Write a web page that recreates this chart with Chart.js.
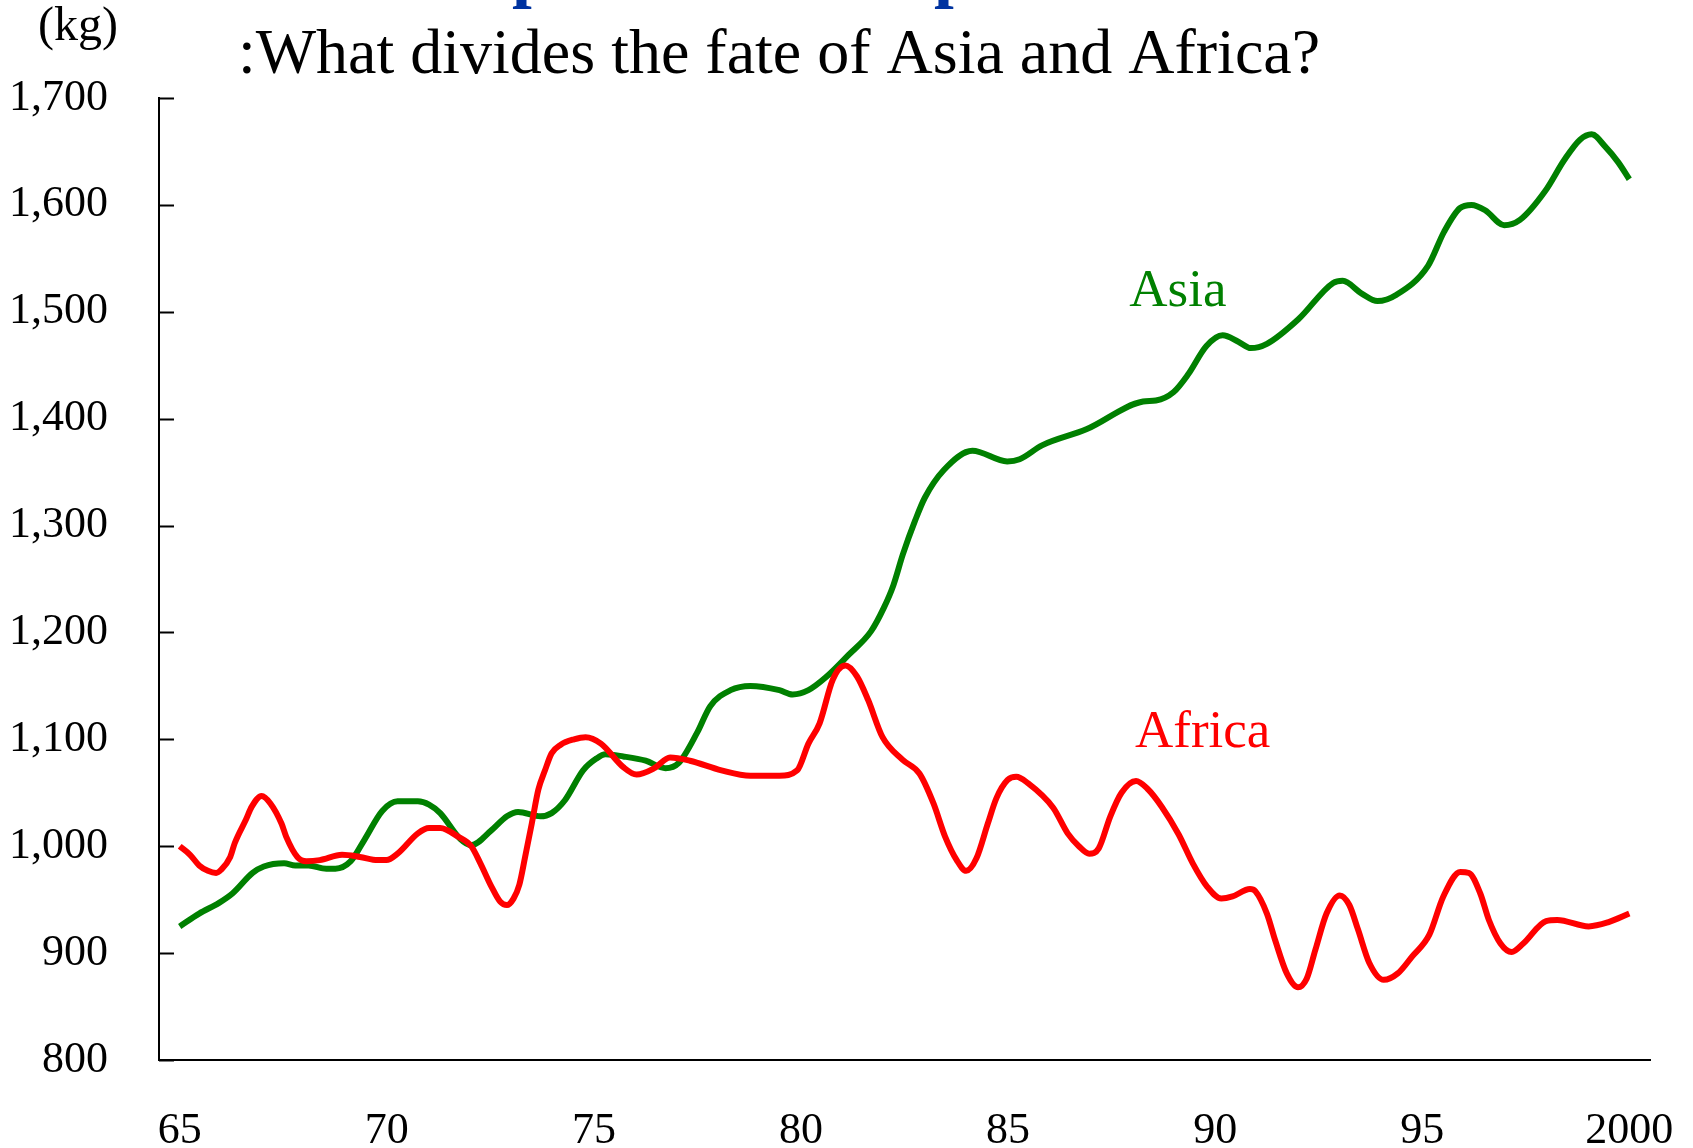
<!DOCTYPE html>
<html>
<head>
<meta charset="utf-8">
<title>Asia and Africa</title>
<script src="https://cdn.jsdelivr.net/npm/chart.js@4.4.1/dist/chart.umd.min.js"></script>
<style>
    body { margin: 0; background: #fff; }
    #wrap { width: 1693px; height: 1148px; }
</style>
</head>
<body>
<div id="wrap"><canvas id="chart" width="1693" height="1148"></canvas></div>
<script>
// Данные (год 65..2000, кг)
const africaYears = [
    65.0, 65.25, 65.47, 65.68, 65.88, 66.0, 66.22, 66.33, 66.6, 66.74,
    66.98, 67.19, 67.46, 67.57, 67.84, 68.06, 68.38, 68.92, 69.35, 69.78,
    69.99, 70.26, 70.75, 71.02, 71.29, 71.72, 72.04, 72.26, 72.53, 72.74,
    72.9, 73.06, 73.2, 73.34, 73.5, 73.66, 73.82, 73.98, 74.2, 74.52,
    74.8, 75.17, 75.71, 76.03, 76.46, 76.84, 77.32, 78.08, 78.78, 79.48,
    79.91, 80.18, 80.45, 80.77, 81.07, 81.35, 81.62, 81.97, 82.45, 82.86,
    83.2, 83.48, 83.76, 83.99, 84.24, 84.51, 84.72, 84.99, 85.2, 85.48,
    86.09, 86.44, 86.71, 86.96, 87.19, 87.47, 87.74, 88.09, 88.36, 88.71,
    89.12, 89.46, 89.81, 90.15, 90.42, 90.84, 90.97, 91.25, 91.45, 91.73,
    92.0, 92.21, 92.42, 92.69, 93.01, 93.24, 93.45, 93.72, 94.07, 94.41,
    94.76, 95.17, 95.51, 95.92, 96.13, 96.4, 96.61, 96.89, 97.16, 97.44,
    97.99, 98.26, 99.02, 99.5, 100.0
];
const africaValues = [
    1000, 992, 982, 977, 975, 978, 990, 1003, 1025, 1037,
    1047, 1040, 1021, 1009, 990, 986, 987, 992, 990, 987,
    987, 993, 1012, 1017, 1017, 1009, 1000, 984, 962, 948,
    945, 951, 964, 990, 1021, 1053, 1071, 1087, 1095, 1100,
    1102, 1096, 1074, 1067, 1073, 1083, 1080, 1071, 1066, 1066,
    1071, 1096, 1115, 1156, 1169, 1159, 1137, 1102, 1081, 1068,
    1040, 1009, 987, 977, 989, 1021, 1045, 1062, 1065, 1059,
    1036, 1012, 1000, 993, 998, 1028, 1050, 1061, 1054, 1037,
    1011, 984, 962, 951, 953, 960, 958, 937, 912, 881,
    868, 876, 903, 937, 954, 945, 922, 891, 875, 881,
    897, 917, 953, 976, 975, 956, 931, 909, 901, 909,
    930, 931, 925, 929, 937
];

const asiaYears = [
    65.0, 65.47, 65.95, 66.28, 66.76, 67.03, 67.52, 67.79, 68.11, 68.54,
    68.76, 69.13, 69.46, 69.89, 70.26, 70.75, 71.02, 71.29, 71.77, 72.04,
    72.53, 72.9, 73.17, 73.71, 73.98, 74.3, 74.74, 75.06, 75.28, 75.71,
    76.25, 76.73, 77.05, 77.49, 77.81, 78.3, 78.78, 79.48, 79.8, 80.18,
    80.6, 81.15, 81.69, 82.0, 82.23, 82.46, 82.76, 82.99, 83.45, 84.14,
    84.98, 85.28, 85.82, 86.89, 88.26, 88.57, 89.0, 89.34, 89.79, 90.18,
    90.56, 90.86, 91.25, 92.01, 92.85, 93.08, 93.54, 93.92, 94.38, 95.14,
    95.53, 95.91, 96.19, 96.52, 96.98, 97.36, 97.97, 98.43, 98.81, 99.09,
    99.43, 99.73, 100.0
];
const asiaValues = [
    925, 937, 947, 956, 975, 981, 984, 982, 982, 979,
    979, 986, 1006, 1033, 1042, 1042, 1039, 1031, 1007, 1001,
    1015, 1028, 1032, 1028, 1031, 1043, 1071, 1082, 1086, 1084,
    1080, 1073, 1078, 1106, 1131, 1146, 1150, 1146, 1142, 1146,
    1158, 1179, 1201, 1223, 1244, 1273, 1305, 1326, 1352, 1370,
    1360, 1362, 1375, 1390, 1416, 1417, 1425, 1441, 1468, 1478,
    1472, 1466, 1470, 1493, 1527, 1529, 1517, 1510, 1516, 1543,
    1575, 1597, 1600, 1595, 1581, 1586, 1613, 1642, 1661, 1666,
    1654, 1640, 1624
];

// Подписи оси X
const xTickValues = [65, 70, 75, 80, 85, 90, 95, 100];
const xTickLabels = ['65', '70', '75', '80', '85', '90', '95', '2000'];

const SERIF = '"Liberation Serif", "Times New Roman", serif';

function toPoints(xs, ys) {
    return xs.map((x, i) => ({ x: x, y: ys[i] }));
}

// Плагин: заголовок, (kg), подписи серий и внутренние засечки оси Y
const decorPlugin = {
    id: 'decor',
    afterDraw(chart) {
        const { ctx, chartArea, scales } = chart;
        const x = scales.x, y = scales.y;

        ctx.save();
        // засечки внутрь
        ctx.strokeStyle = '#000';
        ctx.lineWidth = 2;
        y.ticks.forEach(t => {
            const py = Math.round(y.getPixelForValue(t.value)) + 0.5;
            ctx.beginPath();
            ctx.moveTo(chartArea.left, py);
            ctx.lineTo(chartArea.left + 15, py);
            ctx.stroke();
        });

        // обрезанный синий заголовок сверху
        ctx.fillStyle = '#0033a0';
        ctx.font = 'bold 71px ' + SERIF;
        ctx.textAlign = 'left';
        ctx.textBaseline = 'alphabetic';
        ctx.fillText('Comparison of output', 366, -6);

        // подзаголовок
        ctx.fillStyle = '#000';
        ctx.font = '64px ' + SERIF;
        ctx.textAlign = 'center';
        ctx.fillText(':What divides the fate of Asia and Africa?', 779, 73);

        // единицы
        ctx.font = '48px ' + SERIF;
        ctx.fillText('(kg)', 78, 40);

        // подписи серий
        ctx.font = '53px ' + SERIF;
        ctx.fillStyle = '#008000';
        ctx.fillText('Asia', x.getPixelForValue(89.1), y.getPixelForValue(1505));
        ctx.fillStyle = '#ff0000';
        ctx.fillText('Africa', x.getPixelForValue(89.7), y.getPixelForValue(1093));
        ctx.restore();
    }
};

const ctx = document.getElementById('chart').getContext('2d');
const chart = new Chart(ctx, {
    type: 'line',
    data: {
        datasets: [
            {
                label: 'Africa',
                data: toPoints(africaYears, africaValues),
                borderColor: '#ff0000',
                borderWidth: 6,
                pointRadius: 0,
                cubicInterpolationMode: 'monotone',
                fill: false
            },
            {
                label: 'Asia',
                data: toPoints(asiaYears, asiaValues),
                borderColor: '#008000',
                borderWidth: 6,
                pointRadius: 0,
                cubicInterpolationMode: 'monotone',
                fill: false
            }
        ]
    },
    options: {
        responsive: false,
        animation: false,
        layout: {
            padding: { top: 98, right: 43, left: 0, bottom: 0 }
        },
        plugins: {
            legend: { display: false },
            tooltip: { enabled: false }
        },
        scales: {
            x: {
                type: 'linear',
                min: 64.5,
                max: 100.5,
                afterBuildTicks: scale => {
                    scale.ticks = xTickValues.map(v => ({ value: v }));
                },
                afterFit: scale => {
                    scale.height = 88;
                    // не даём подписи "2000" сжимать область графика
                    scale.paddingLeft = 0;
                    scale.paddingRight = 0;
                },
                grid: { display: true, drawOnChartArea: false, drawTicks: false },
                border: { display: true, color: '#000', width: 2 },
                ticks: {
                    autoSkip: false,
                    maxRotation: 0,
                    padding: 45,
                    color: '#000',
                    font: { family: SERIF, size: 44 },
                    callback: value => {
                        const i = xTickValues.indexOf(value);
                        return i >= 0 ? xTickLabels[i] : '';
                    }
                }
            },
            y: {
                min: 800,
                max: 1700,
                afterFit: scale => { scale.width = 159; },
                grid: { display: true, drawOnChartArea: false, drawTicks: false },
                border: { display: true, color: '#000', width: 2 },
                ticks: {
                    stepSize: 100,
                    padding: 51,
                    color: '#000',
                    font: { family: SERIF, size: 44 },
                    callback: value => value.toLocaleString('en-US')
                }
            }
        }
    },
    plugins: [decorPlugin]
});
</script>
</body>
</html>
